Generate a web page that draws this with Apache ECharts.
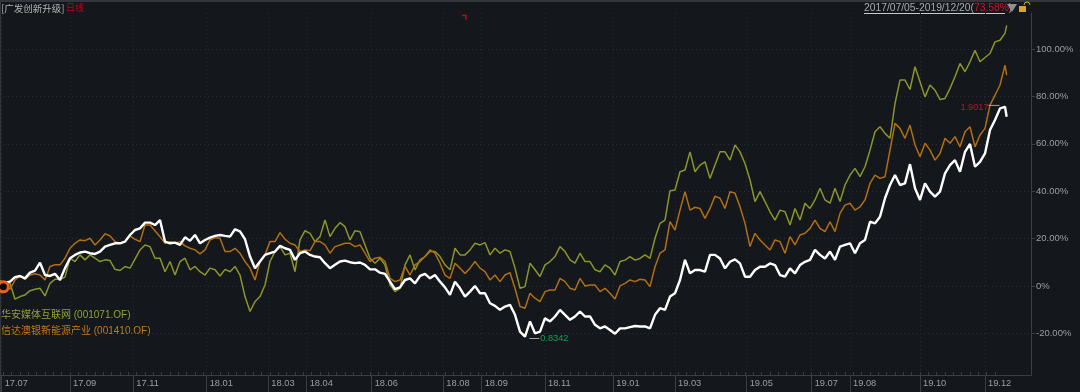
<!DOCTYPE html>
<html><head><meta charset="utf-8">
<style>html,body{margin:0;padding:0;background:#14171c}#c{width:1080px;height:392px}</style>
<script src="https://cdn.jsdelivr.net/npm/echarts@6/dist/echarts.min.js"></script>
</head><body><div id="c"></div>
<script>
const olive = [2.3,0.8,1.1,-5.6,-4.5,-3.8,-2,-1.4,-1,-4.2,1.1,2.8,2.8,3.7,11.7,10.3,13.1,11,13.1,11.7,10.3,11,10.7,7,6.5,8.2,7.5,11.3,15.2,17.3,16.6,11.7,11.7,6,10.3,4.6,10.3,11.7,6.8,8.2,6,4.6,7.5,6.8,4.2,7,6,8.2,4.6,-4.5,-10.8,-6.6,-4.5,0.4,10.3,14.5,16.6,13.1,13.8,6,19.4,23.3,22.2,18.7,20.8,27.8,20.8,24.3,26.7,25,19.4,23.3,
22.9,17.3,11.7,9.6,11.7,8.9,0.4,-2.4,-1,8.9,13.1,6.8,11,12.4,14.5,14.5,12.4,8.9,6.8,15.9,13.1,13.1,15.2,18,17.3,18.3,13.1,15.9,13.8,15.2,14.5,7.5,-1,-0.3,9.6,6.8,4,8.9,10.3,12.4,16.6,14.5,11,9.6,13.8,10.3,10.3,6.8,6,8.9,7.5,4.6,10.3,
10.9,12.4,10.9,11.6,13.1,11.6,20.1,26.4,27.8,40.2,40.5,48.2,48.9,56.6,48.2,51,52.4,45.4,51,56.6,56.6,53.1,59.5,56.6,51.7,44.7,35.6,39.8,35.6,31.3,27.8,32,31.3,25.7,32.7,27.8,34.9,32.7,36.3,41.2,36.3,34.9,41.2,35.6,42.6,46.8,49.6,46.1,
50.3,57.3,65.1,67.2,64.4,62.3,77,86.9,86.9,82.9,92.5,86.2,79.8,84.8,82.6,78.7,79.1,83.4,88.3,93.9,90.4,94.6,99.5,94.6,96.4,98.1,103,103.7,106.6,110,108];
const orange = [0,0.4,-1.4,2.5,4.2,2.8,4.6,5.1,4.6,2.5,8.2,8.9,8.9,11.7,15.9,18,19.4,19.1,20.1,17.3,19.4,22,21.1,18.7,18,18.7,21.1,19.7,18.7,25.7,25.7,23.3,20.8,18,18.7,18,18.7,16.9,15.9,15.2,13.5,15.2,19.4,20.4,20.1,14.5,14.5,15.9,13.8,10.3,7.5,2.5,10.3,13.1,18.7,18.7,22.5,19.7,18,17.3,14.5,15.2,14.9,18.7,18.7,17.3,13.8,16.6,17.3,18,18,16.6,
17.3,13.8,10.3,11.7,12.1,10.3,3.2,1.8,2.5,8.2,4.6,8.9,10.3,12.4,15.2,13.8,9.6,4.6,3.2,9.6,7.5,5.3,7.5,10.3,7.5,6,2.5,4.6,1.8,4.6,5.6,-1,-8.7,-9.4,-3.1,-5.2,-6.6,-2.4,-1.7,-1.7,3.2,1.8,-1,-1.7,3.2,0,0.4,0.4,-2.4,-1,-3.1,-5.5,0,
1.1,2.5,1.8,2.8,2.5,-0.3,8.1,13.8,15.2,27.1,23.6,32,39.8,32,33.2,32.7,28.5,32.7,37.9,37,32.7,39.8,39.1,33.4,26.4,16.6,22.2,19.4,17.3,15.2,19.4,18.7,13.8,20.8,17.3,21.5,22.2,24.3,27.8,24.3,22.9,27.1,22.9,30.6,34.1,34.9,32,
33.4,36.3,43.3,46.8,45.4,46.1,57.3,68.6,66.5,62.3,67.9,59.5,54.5,60.2,57.3,53.1,55.9,62.3,60.2,63,58.7,65.1,67.2,58.7,63.7,66.5,76.3,80.5,84.8,93.2,89];
const white = [0.4,1.4,1.8,3.7,4.2,3.2,5.6,6.5,9.8,4.6,4.2,5.1,2.5,7.5,11.7,13.1,14.1,14.5,13.8,13.5,14.5,16.6,17.3,18,18,18.7,21.5,23.6,24.3,26.7,26.7,25.7,27.8,18.7,18,18.3,17.3,20.5,19.1,21.5,18,19.4,20.4,21.1,21.5,21.1,20.8,23.9,23,19.7,12.4,7.5,10.3,13.1,13.8,14.5,16.9,15.9,15.2,11,13.8,14.5,13.1,12.4,12.1,9.6,7.5,8.9,10.3,10.7,10,9.6,
9.9,8.9,7,7,5.6,5.1,1.8,-1.4,-0.6,2.5,3.2,1.1,4.2,5.1,3.2,4.6,1.8,-0.6,-3.8,1.8,-1,-4.5,-2.4,0,-3.1,-3.1,-7.3,-8.4,-10.1,-8.7,-8,-12.2,-19.3,-21.4,-15,-20,-19.3,-13.6,-15,-12.9,-10.1,-12.2,-14.3,-12.9,-10.8,-12.9,-12.9,-16.4,-17.9,-17.1,-18.6,-20.2,-17.9,-17.9,-17.4,-16.9,-17.1,-17.1,-17.9,-12.2,-9.4,-10.1,
-4.5,-3.1,2.5,11,5.3,6.7,6.7,6,13.1,13.1,11.6,7.4,10.2,11.2,9.5,3.9,3.9,6.7,8.1,8.1,9.5,8.8,4.6,3.9,7.4,5.3,8.8,10.2,11,15.2,13.1,11.6,14.5,11,16.6,17.3,18,13.8,
18,19.4,27.1,26.4,29.2,37,
42.6,46.8,42.6,43.3,51.4,41.2,36.3,43.3,39.8,37.7,39.8,47.5,51,53.1,48.2,56.6,59.9,50.3,52.4,55.9,65.8,70,74.9,75.6,71.4];
const sessions = white.slice(0, -1).map((_, i) => i * 3).concat([604]);
const tickLabels = ['17.07','17.09','17.11','18.01','18.03','18.04','18.06','18.08','18.09','18.11','19.01','19.03','19.05','19.07','19.08','19.10','19.12'];
const tickSessions = [1,42,80,124,161,184,223,266,289,327,368,405,448,487,510,552,591];
const yTicks = [-20,0,20,40,60,80,100];
const weekTicks = []; for (let s = 2; s < 600; s += 5) weekTicks.push(s);
const pairs = a => a.map((v, i) => [sessions[i], v]);
const LATIN = '"Liberation Sans","Noto Sans CJK SC",sans-serif';
const labelCol = '#9c9ea2', axisCol = '#3b3e45', gridCol = '#2a2d33';
const chart = echarts.init(document.getElementById('c'), null, {renderer:'canvas'});
const line = (name, data, color, width, extra) => Object.assign({
  name, type:'line', data:pairs(data), showSymbol:false, smooth:false, animation:false,
  lineStyle:{color, width}, itemStyle:{color}, clip:false, silent:true
}, extra || {});
chart.setOption({
  backgroundColor:'#14171c',
  animation:false,
  grid:{left:0, right:49, top:13, bottom:17},
  textStyle:{fontFamily:LATIN},
  xAxis:[{
    type:'value', min:0, max:618.6, position:'bottom',
    axisLine:{show:true, onZero:false, lineStyle:{color:axisCol, width:1}},
    axisTick:{show:true, length:17, customValues:tickSessions, lineStyle:{color:axisCol}},
    axisLabel:{show:true, customValues:tickSessions, align:'left', margin:4, padding:[0,0,0,3], color:labelCol, fontSize:9.3, fontFamily:LATIN,
      formatter:v => tickLabels[tickSessions.indexOf(v)], hideOverlap:false, showMinLabel:true, showMaxLabel:true},
    splitLine:{show:true, lineStyle:{color:gridCol, type:[1,3], width:1}}
  },{
    type:'value', min:0, max:618.6, position:'bottom',
    axisLine:{show:false, onZero:false},
    axisTick:{show:true, inside:true, length:3, customValues:weekTicks, lineStyle:{color:axisCol}},
    axisLabel:{show:false}, splitLine:{show:false}
  }],
  yAxis:{
    type:'value', min:-37.6, max:115.2, position:'right',
    axisLine:{show:true, onZero:false, lineStyle:{color:axisCol, width:1}},
    axisTick:{show:true, length:4, customValues:yTicks, lineStyle:{color:axisCol}},
    axisLabel:{show:true, customValues:yTicks, margin:2, padding:[0,0,0,3], color:labelCol, fontSize:9.5, fontFamily:LATIN, formatter:v => v === 0 ? '0%' : v.toFixed(2) + '%'},
    splitLine:{show:true, lineStyle:{color:gridCol, type:[1,3], width:1}}
  },
  series:[
    line('华安媒体互联网 (001071.OF)', olive, '#8a952b', 1.5),
    line('信达澳银新能源产业 (001410.OF)', orange, '#b06f12', 1.5),
    line('广发创新升级', white, '#ffffff', 2.4, {
      markPoint:{silent:true, animation:false, data:[
        {coord:[2,-0.4], symbol:'circle', symbolSize:10, itemStyle:{color:'#0a0a0a', borderColor:'#e8601c', borderWidth:3}, label:{show:false}},
        {coord:[317,-22.2], symbol:'rect', symbolSize:[10,1], symbolOffset:[6,0], itemStyle:{color:'#a0a0a0'},
          label:{show:true, position:'right', distance:1, formatter:'0.8342', color:'#14a04c', fontSize:9.2, fontFamily:LATIN}},
        {coord:[600,76.2], symbol:'rect', symbolSize:[11,1], symbolOffset:[-6,0], itemStyle:{color:'#a0a0a0'},
          label:{show:true, position:'left', distance:0, offset:[0,2], formatter:'1.9017', color:'#b3182e', fontSize:9.2, fontFamily:LATIN}}
      ]}
    })
  ],
  graphic:[
    {type:'rect', shape:{x:0,y:0,width:1080,height:2}, style:{fill:'#33363c'}, silent:true},
    {type:'rect', shape:{x:0,y:0,width:1,height:392}, style:{fill:'#33363c'}, silent:true},
    {type:'text', x:1, y:8, style:{text:'[广发创新升级]', fill:'#b4b4b4', font:'9.5px "Noto Sans CJK SC"', verticalAlign:'middle'}},
    {type:'text', x:66, y:8, style:{text:'日线', fill:'#c2001a', font:'9px "Noto Sans CJK SC"', verticalAlign:'middle'}},
    {type:'text', x:1, y:315, style:{text:'华安媒体互联网 (001071.OF)', fill:'#94a032', font:'10px ' + LATIN, verticalAlign:'middle'}},
    {type:'text', x:1, y:331, style:{text:'信达澳银新能源产业 (001410.OF)', fill:'#c97a10', font:'10px ' + LATIN, verticalAlign:'middle'}},
    {type:'text', x:864, y:8, style:{verticalAlign:'middle',
      text:'{a|2017/07/05-2019/12/20(}{b|73.58%}{a|)}',
      rich:{a:{fill:'#a8aaae', fontSize:10.3, fontFamily:LATIN}, b:{fill:'#c4182c', fontSize:10.3, fontFamily:LATIN}}}},
    {type:'rect', shape:{x:864,y:13,width:141,height:1}, style:{fill:'#c8c8c8'}, silent:true},
    {type:'polygon', shape:{points:[[1007,4],[1017,4],[1012,12]]}, style:{fill:'#8f9194'}},
    {type:'rect', shape:{x:1019,y:6,width:7,height:6}, style:{fill:'#e0a51e'}},
    {type:'arc', shape:{cx:1027,cy:5,r:3,startAngle:Math.PI,endAngle:0,clockwise:true}, style:{fill:'none', stroke:'#e0a51e', lineWidth:1}},
    {type:'polyline', shape:{points:[[462,15.5],[466,15.5],[466,19.5]]}, style:{stroke:'#b0101c', lineWidth:1.5, fill:'none'}}
  ]
});
</script></body></html>
